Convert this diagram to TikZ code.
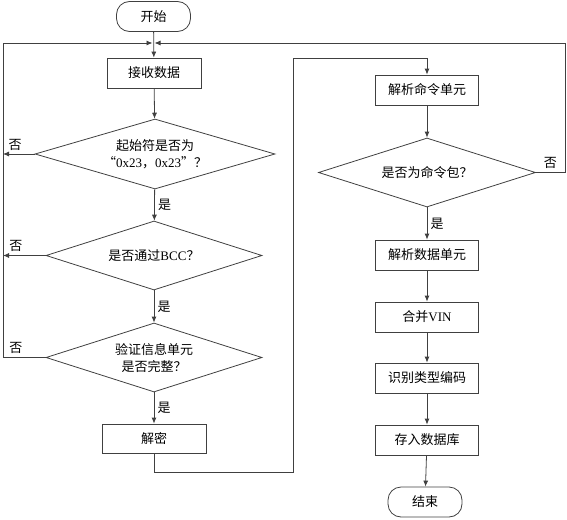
\documentclass[tikz,border=0pt]{standalone}
\usepackage{fontspec}
\setmainfont{Liberation Serif}
\newfontfamily\cjk{Noto Sans CJK SC}
\newcommand\lat[1]{{\rmfamily #1}}
\usetikzlibrary{
    arrows.meta,
    shapes.geometric
}

\begin{document}
\begin{tikzpicture}[
    x=1pt, y=-1pt,
    font=\fontsize{13}{17}\selectfont\cjk,
    proc/.style={
        rectangle,
        draw=black!75,
        line width=0.8pt,
        minimum width=104pt,
        minimum height=30pt,
        inner sep=2pt,
        align=center
    },
    term/.style={
        proc,
        rounded corners=13pt,
        minimum width=74pt
    },
    decide/.style={
        diamond,
        draw=black!75,
        line width=0.8pt,
        aspect=3.4,
        inner sep=0pt,
        minimum width=216pt,
        minimum height=69pt,
        align=center
    },
    arrow/.style={
        -{Latex[length=6pt,width=5pt]},
        line width=0.8pt,
        draw=black!75
    },
    wire/.style={
        line width=0.8pt,
        draw=black!75
    },
    note/.style={
        font=\fontsize{13}{15}\selectfont\cjk
    }
]
\useasboundingbox (0,0) rectangle (567,519);

% =========================================================
% Left column: receive and check
% =========================================================
\node[term] (start) at (153.5,16.5) {开始};

\node[proc, minimum width=94pt] (recv) at (154,73) {接收数据};

\node[decide, minimum width=240pt, minimum height=70pt] (head) at (155,154)
{起始符是否为\\“\lat{0x23}，\lat{0x23}”？};

\node[decide] (bcc) at (154,255.5) {是否通过\lat{BCC}？};

\node[decide] (info) at (154,357.5) {验证信息单元\\是否完整？};

\node[proc, minimum height=29pt] (decrypt) at (154,438.5) {解密};

% =========================================================
% Right column: parse and store
% =========================================================
\node[proc, minimum width=103pt] (cmd) at (427,90) {解析命令单元};

\node[decide, minimum width=217pt] (pkt) at (427,172.5) {是否为命令包？};

\node[proc, minimum width=103pt] (data) at (427,255) {解析数据单元};

\node[proc, minimum width=103pt] (vin) at (427,317) {合并\lat{VIN}};

\node[proc, minimum width=103pt] (kind) at (427,378) {识别类型编码};

\node[proc, minimum width=103pt] (store) at (427,440) {存入数据库};

\node[term] (stop) at (425,502) {结束};

% =========================================================
% Loop corners
% =========================================================
\coordinate (jl) at (152.5,43);
\coordinate (jr) at (154.5,43);
\coordinate (lft) at (3,43);
\coordinate (rgt) at (565,43);
\coordinate (lb) at (293,472);
\coordinate (lt) at (293,58);

% =========================================================
% Main flow
% =========================================================
\draw[arrow] (start) -- (recv);
\draw[arrow] (recv) -- (head);
\draw[arrow] (head) -- node[right, note] {是} (bcc);
\draw[arrow] (bcc) -- node[right, note] {是} (info);
\draw[arrow] (info) -- node[right, note] {是} (decrypt);

\draw[arrow] (decrypt) |- (lb) -- (lt) -| (cmd);

\draw[arrow] (cmd) -- (pkt);
\draw[arrow] (pkt) -- node[right, note] {是} (data);
\draw[arrow] (data) -- (vin);
\draw[arrow] (vin) -- (kind);
\draw[arrow] (kind) -- (store);
\draw[arrow] (store) -- (stop);

% =========================================================
% Return paths
% =========================================================
\draw[arrow] (head.west) -- node[pos=0.62, above, note] {否} (head.west -| lft);
\draw[arrow] (bcc.west) -- node[pos=0.7, above, note] {否} (bcc.west -| lft);
\draw[wire] (info.west) -- node[pos=0.7, above, note] {否} (info.west -| lft);
\draw[arrow] (info.west -| lft) -- (lft) -- (jl);

\draw[arrow] (pkt.east) -- node[pos=0.5, above, note] {否} (pkt.east -| rgt) -- (rgt) -- (jr);

\end{tikzpicture}
\end{document}
